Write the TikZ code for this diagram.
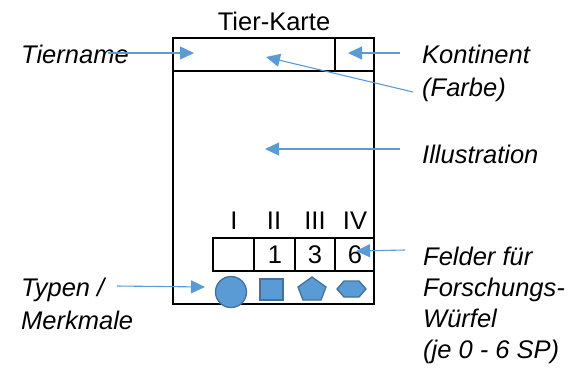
\documentclass[tikz,border=0pt]{standalone}
\usepackage{fontspec}
\setmainfont{Liberation Sans}
\usetikzlibrary{arrows.meta}
\definecolor{callout}{HTML}{5B9BD5}
\definecolor{symfill}{HTML}{5B9BD5}
\definecolor{symline}{HTML}{41719C}
\begin{document}
\begin{tikzpicture}[x=1pt,y=-1pt,
  txt/.style={inner sep=0pt,font=\fontsize{25.5}{31}\selectfont},
  lbl/.style={txt,anchor=base west,align=left,font=\fontsize{25.5}{#1}\selectfont\itshape},
  lbl/.default=31,
  card/.style={line width=2.6pt},
  callarrow/.style={draw=callout,line width=1.1pt,-{Triangle[length=14pt,width=13pt]}},
  sym/.style={fill=symfill,draw=symline,line width=1.3pt}]
\useasboundingbox (0,0) rectangle (570,368);

% card frame
\draw[card] (173,38) rectangle (374,304);
\draw[card] (173,71) -- (374,71);
\draw[card] (335,38) -- (335,71);

% research dice fields
\draw[card] (213,238) rectangle (374,271);
\foreach \x in {254,295,335} \draw[card] (\x,238) -- (\x,271);

\node[txt,anchor=base] (title) at (274,30) {Tier-Karte};

\node[txt,anchor=base] (r1) at (234,229) {I};
\node[txt,anchor=base] (r2) at (274,229) {II};
\node[txt,anchor=base] (r3) at (315,229) {III};
\node[txt,anchor=base] (r4) at (355,229) {IV};
\node[txt,anchor=base] (v2) at (275,263) {1};
\node[txt,anchor=base] (v3) at (315,263) {3};
\node[txt,anchor=base] (v4) at (355,263) {6};

% type symbols
\node[sym,circle,minimum size=31pt,inner sep=0pt] (circ) at (231,292) {};
\node[sym,rectangle,minimum width=23pt,minimum height=21pt,inner sep=0pt] (sq) at (271.5,289.5) {};
\draw[sym] (312,277) -- (326,287) -- (321,300) -- (303,300) -- (298,287) -- cycle;
\draw[sym] (337,289) -- (344,281) -- (359,281) -- (366,289) -- (359,297) -- (344,297) -- cycle;

% labels (multi-line nodes sit on the baseline of their last line)
\node[lbl] (tiername) at (21,63) {Tiername};
\node[lbl=33] (kontinent) at (422,96) {Kontinent\\(Farbe)};
\node[lbl] (illu) at (422,163) {Illustration};
\node[lbl=31] (felder) at (423,358) {Felder für\\Forschungs-\\Würfel\\(je 0 - 6 SP)};
\node[lbl=33] (typen) at (21,329) {Typen /\\Merkmale};

% callout anchors
\coordinate (tnS) at (108,53);   \coordinate (tnT) at (194,53);
\coordinate (koS) at (400,53);   \coordinate (koT) at (348,53);
\coordinate (faS) at (413,92);   \coordinate (faT) at (266,57);
\coordinate (ilS) at (400,149);  \coordinate (ilT) at (265,149);
\coordinate (feS) at (405,250);  \coordinate (feT) at (356,251);
\coordinate (tyS) at (117,286);  \coordinate (tyT) at (205,287);

\draw[callarrow] (tnS) -- (tnT);
\draw[callarrow] (koS) -- (koT);
\draw[callarrow] (faS) -- (faT);
\draw[callarrow] (ilS) -- (ilT);
\draw[callarrow] (feS) -- (feT);
\draw[callarrow] (tyS) -- (tyT);
\end{tikzpicture}
\end{document}
